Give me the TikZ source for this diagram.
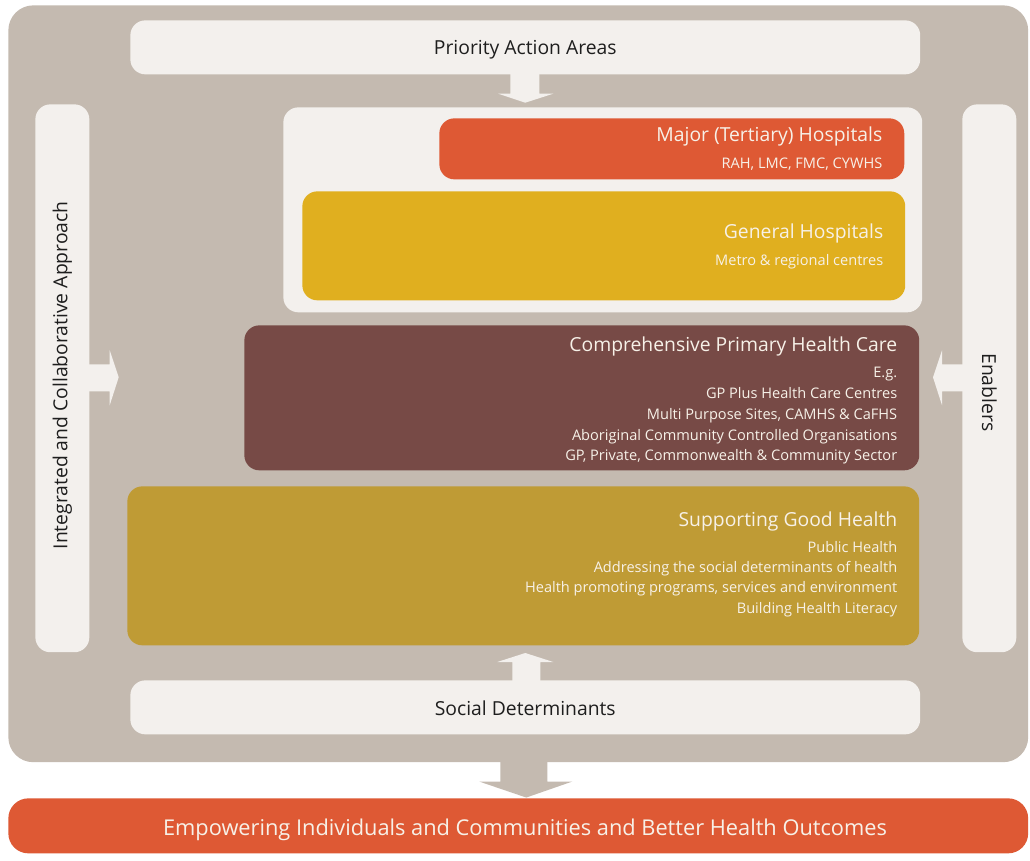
\documentclass[tikz,border=0pt]{standalone}
\usepackage{fontspec}
\setmainfont{Open Sans}
\usetikzlibrary{positioning, calc}

\definecolor{taupe}{HTML}{C4BAB0}
\definecolor{paper}{HTML}{F3F0ED}
\definecolor{tomato}{HTML}{DE5934}
\definecolor{saffron}{HTML}{E0AF1F}
\definecolor{claret}{HTML}{774A46}
\definecolor{ochre}{HTML}{BF9B35}
\definecolor{ink}{HTML}{1E1E1E}
\definecolor{chalk}{HTML}{F7F1E8}

\tikzset{%
  slab/.style={draw=none, fill=paper, rounded corners=0.3cm, inner sep=0mm, anchor=north west},
  tier/.style={draw=none, rounded corners=0.3cm, inner sep=0mm, anchor=north west},
  headline/.style={text=ink, inner sep=0mm, font=\fontsize{11}{13}\selectfont},
  tiertitle/.style={text=chalk, anchor=base east, inner sep=0mm, font=\fontsize{11}{13}\selectfont},
  tierline/.style={text=chalk, anchor=base east, inner sep=0mm, font=\fontsize{8.3}{10}\selectfont},
  fatarrow/.style={draw=none, fill=paper}
}

\begin{document}
\begin{tikzpicture}[x=0.02cm, y=-0.02cm]
  \clip (0,0) rectangle (1030,861);
  \fill[white] (0,0) rectangle (1030,861);

  % background panel and the outcome bar
  \node[tier, fill=taupe, rounded corners=0.5cm, minimum width=20.4cm, minimum height=15.14cm] (panel) at (8,5) {};
  \node[tier, fill=tomato, rounded corners=0.4cm, minimum width=20.4cm, minimum height=1.1cm] (outcome) at (8,798) {};
  \node[text=chalk, font=\fontsize{12.4}{15}\selectfont] (outcomeT) at (525,830) {Empowering Individuals and Communities and Better Health Outcomes};

  % top and bottom bars
  \node[slab, minimum width=15.8cm, minimum height=1.08cm] (priority) at (130,20) {};
  \node[headline] at ($(priority.center)+(0,2)$) {Priority Action Areas};
  \node[slab, minimum width=15.8cm, minimum height=1.08cm] (social) at (130,680) {};
  \node[headline] at ($(social.center)+(0,1)$) {Social Determinants};

  % side bars
  \node[slab, minimum width=1.08cm, minimum height=10.96cm] (integrated) at (35,104) {};
  \node[headline, rotate=90] at ($(integrated.center)+(0,-3)$) {Integrated and Collaborative Approach};
  \node[slab, minimum width=1.08cm, minimum height=10.96cm] (enablers) at (962,104) {};
  \node[headline, rotate=-90] at ($(enablers.center)+(0,14)$) {Enablers};

  % hospitals
  \node[slab, minimum width=12.78cm, minimum height=4.1cm] (hospitals) at (283,107) {};
  \node[tier, fill=tomato, minimum width=9.3cm, minimum height=1.22cm] (major) at (439,118) {};
  \node[tiertitle] (majorT) at ($(major.north east)+(-22,24)$) {Major (Tertiary) Hospitals};
  \node[tierline] (majorL) at ($(major.north east)+(-22,51)$) {RAH, LMC, FMC, CYWHS};

  \node[tier, fill=saffron, minimum width=12.06cm, minimum height=2.18cm] (general) at (302,191) {};
  \node[tiertitle] (generalT) at ($(general.north east)+(-22,48)$) {General Hospitals};
  \node[tierline] (generalL) at ($(general.north east)+(-22,75)$) {Metro \& regional centres};

  % primary health care
  \node[tier, fill=claret, minimum width=13.5cm, minimum height=2.9cm] (primary) at (244,325) {};
  \node[tiertitle] (primaryT) at ($(primary.north east)+(-22,26)$) {Comprehensive Primary Health Care};
  \foreach \line [count=\i] in {E.g., GP Plus Health Care Centres, {Multi Purpose Sites, CAMHS \& CaFHS},
      Aboriginal Community Controlled Organisations, {GP, Private, Commonwealth \& Community Sector}}
    \node[tierline] (primary-\i) at ($(primary.north east)+(-22,32+20.75*\i)$) {\line};

  % supporting good health
  \node[tier, fill=ochre, minimum width=15.84cm, minimum height=3.18cm] (support) at (127,486) {};
  \node[tiertitle] (supportT) at ($(support.north east)+(-22,40)$) {Supporting Good Health};
  \foreach \line [count=\i] in {Public Health, Addressing the social determinants of health,
      {Health promoting programs, services and environment}, Building Health Literacy}
    \node[tierline] (support-\i) at ($(support.north east)+(-22,46+20.33*\i)$) {\line};

  % block arrows
  \fill[fatarrow] ($(priority.south)+(-15,-1)$) -- ($(priority.south)+(14,-1)$) -- ($(priority.south)+(14,19)$)
    -- ($(priority.south)+(28,19)$) -- ($(priority.south)+(0,28)$) -- ($(priority.south)+(-27,19)$)
    -- ($(priority.south)+(-15,19)$) -- cycle;
  \fill[fatarrow] ($(social.north)+(-13,1)$) -- ($(social.north)+(15,1)$) -- ($(social.north)+(15,-18)$)
    -- ($(social.north)+(28,-18)$) -- ($(social.north)+(0,-27)$) -- ($(social.north)+(-28,-18)$)
    -- ($(social.north)+(-13,-18)$) -- cycle;
  \fill[fatarrow] ($(integrated.east)+(-1,-14)$) -- ($(integrated.east)+(20,-14)$) -- ($(integrated.east)+(20,-28)$)
    -- ($(integrated.east)+(29,-1)$) -- ($(integrated.east)+(20,27)$) -- ($(integrated.east)+(20,13)$)
    -- ($(integrated.east)+(-1,13)$) -- cycle;
  \fill[fatarrow] ($(enablers.west)+(1,-14)$) -- ($(enablers.west)+(-20,-14)$) -- ($(enablers.west)+(-20,-28)$)
    -- ($(enablers.west)+(-29,-1)$) -- ($(enablers.west)+(-20,27)$) -- ($(enablers.west)+(-20,13)$)
    -- ($(enablers.west)+(1,13)$) -- cycle;
  \fill[taupe] ($(panel.south)+(-18,-1)$) -- ($(panel.south)+(29,-1)$) -- ($(panel.south)+(29,19)$)
    -- ($(panel.south)+(54,19)$) -- ($(panel.south)+(8,35)$) -- ($(panel.south)+(-39,19)$)
    -- ($(panel.south)+(-18,19)$) -- cycle;
\end{tikzpicture}
\end{document}
